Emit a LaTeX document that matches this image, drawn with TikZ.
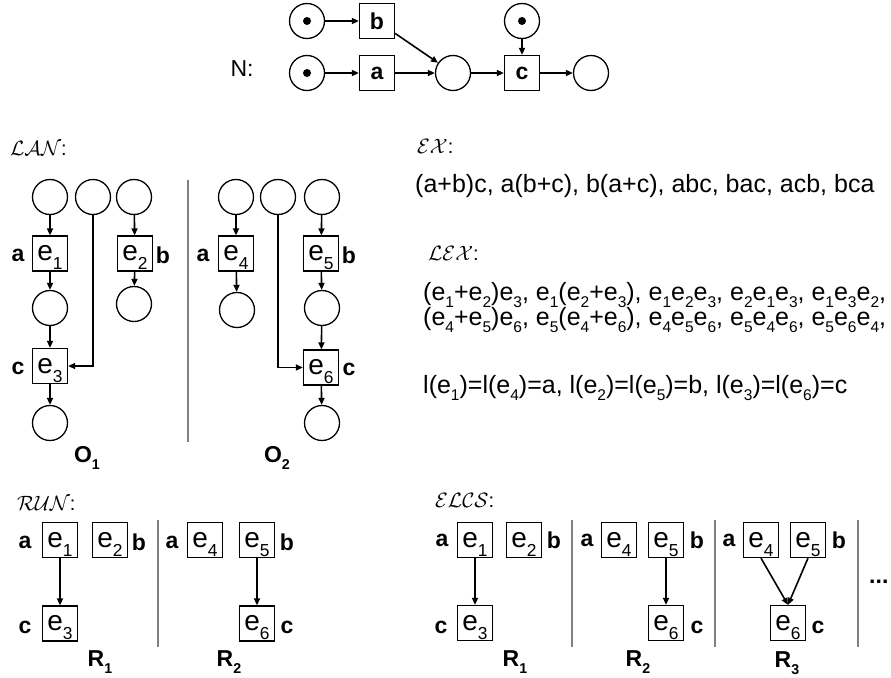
\documentclass[tikz,border=0pt]{standalone}
\usepackage{fontspec}
\setmainfont{Liberation Sans}
\usepackage{tikz}
\usetikzlibrary{arrows.meta,positioning}
\newcommand{\ix}[1]{\raisebox{-0.3em}{\scalebox{0.62}{#1}}}
\newcommand{\bx}[1]{e\raisebox{-0.32em}[0pt][0pt]{\scalebox{0.62}{#1}}}

\begin{document}
\begin{tikzpicture}[x=1pt, y=-1pt,
    place/.style={circle, draw, line width=1.3pt, minimum size=35pt, inner sep=0pt},
    token/.style={place, path picture={\fill (path picture bounding box.center) circle (4pt);}},
    trans/.style={draw, line width=1.3pt, minimum size=35pt, inner sep=0pt, font=\fontsize{23}{26}\selectfont\bfseries},
    ev/.style={draw, line width=1.3pt, minimum size=35pt, inner sep=0pt, font=\fontsize{28}{30}\selectfont},
    arc/.style={-{Triangle[length=7pt,width=6pt]}, line width=1.6pt},
    thick_arc/.style={arc, line width=2.6pt},
    sep/.style={gray, line width=1.5pt},
    lbl/.style={font=\fontsize{23}{26}\selectfont\bfseries, inner sep=0pt},
    txt/.style={font=\fontsize{25}{28}\selectfont, anchor=base west, inner sep=0pt},
    cal/.style={font=\fontsize{20}{24}\selectfont, anchor=base west, inner sep=0pt}
]
    \useasboundingbox (0,0) rectangle (891,677);

    % net N
    \node[token] (pb) at (307,21) {};
    \node[trans] (tb) at (377,21) {b};
    \node[token] (pa) at (307,73) {};
    \node[trans] (ta) at (377,73) {a};
    \node[place] (pm) at (453,73) {};
    \node[token] (pc) at (522,21) {};
    \node[trans] (tc) at (522,73) {c};
    \node[place] (pe) at (591,73) {};
    \node[font=\fontsize{23}{26}\selectfont] (nlab) at (242,69) {N:};

    \draw[thick_arc] (pb) -- (tb);
    \draw[thick_arc] (pa) -- (ta);
    \draw[arc] (ta) -- (pm);
    \draw[arc] (tb) -- (pm);
    \draw[arc] (pm) -- (tc);
    \draw[arc] (pc) -- (tc);
    \draw[thick_arc] (tc) -- (pe);

    % LAN
    \node[cal] (lan) at (10,155) {$\mathcal{LAN}$:};
    \node[place] (q1) at (50,197) {};
    \node[place] (q2) at (93,197) {};
    \node[place] (q3) at (134,197) {};
    \node[ev] (e1) at (50,253.5) {\bx{1}};
    \node[ev] (e2) at (135,253.5) {\bx{2}};
    \node[place] (q4) at (50,308) {};
    \node[place] (q5) at (134,304) {};
    \node[ev] (e3) at (50,366) {\bx{3}};
    \node[place] (q6) at (50,423) {};
    \node[lbl] (la1) at (18,255) {a};
    \node[lbl] (lb1) at (163,255) {b};
    \node[lbl] (lc1) at (18,368) {c};

    \draw[arc] (q1) -- (e1);
    \draw[arc] (e1) -- (q4);
    \draw[arc] (q4) -- (e3);
    \draw[arc] (e3) -- (q6);
    \draw[arc] (q3) -- (e2);
    \draw[arc] (e2) -- (q5);
    \draw[arc] (q2.south) |- (e3.east);

    \draw[sep] (188,180) -- (188,442);

    \node[place] (r1) at (236,197) {};
    \node[place] (r2) at (278,197) {};
    \node[place] (r3) at (322,197) {};
    \node[ev] (e4) at (236,253.5) {\bx{4}};
    \node[place] (r4) at (237,310) {};
    \node[ev] (e5) at (321,253.5) {\bx{5}};
    \node[place] (r5) at (322,308) {};
    \node[ev] (e6) at (321,367.5) {\bx{6}};
    \node[place] (r6) at (322,423) {};
    \node[lbl] (la2) at (203,255) {a};
    \node[lbl] (lb2) at (349,255) {b};
    \node[lbl] (lc2) at (349,369) {c};

    \draw[arc] (r1) -- (e4);
    \draw[arc] (e4) -- (r4);
    \draw[arc] (r3) -- (e5);
    \draw[arc] (e5) -- (r5);
    \draw[arc] (r5) -- (e6);
    \draw[arc] (e6) -- (r6);
    \draw[arc] (r2.south) |- (e6.west);

    \node[lbl] (o1) at (87,458) {O\ix{1}};
    \node[lbl] (o2) at (277,458) {O\ix{2}};

    % EX and LEX
    \node[cal] (ex) at (417,153) {$\mathcal{EX}$:};
    \node[txt] (exl) at (415,192) {(a+b)c, a(b+c), b(a+c), abc, bac, acb, bca};
    \node[cal] (lex) at (428,260) {$\mathcal{LEX}$:};
    \node[txt] (lex1) at (423,300) {(e\ix{1}+e\ix{2})e\ix{3}, e\ix{1}(e\ix{2}+e\ix{3}), e\ix{1}e\ix{2}e\ix{3}, e\ix{2}e\ix{1}e\ix{3}, e\ix{1}e\ix{3}e\ix{2},};
    \node[txt] (lex2) at (423,325) {(e\ix{4}+e\ix{5})e\ix{6}, e\ix{5}(e\ix{4}+e\ix{6}), e\ix{4}e\ix{5}e\ix{6}, e\ix{5}e\ix{4}e\ix{6}, e\ix{5}e\ix{6}e\ix{4},};
    \node[txt] (lmap) at (423,393) {l(e\ix{1})=l(e\ix{4})=a, l(e\ix{2})=l(e\ix{5})=b, l(e\ix{3})=l(e\ix{6})=c};

    % RUN
    \node[cal] (run) at (17,510) {$\mathcal{RUN}$:};
    \node[ev] (u1) at (60,540) {\bx{1}};
    \node[ev] (u2) at (110,540) {\bx{2}};
    \node[ev] (u3) at (60,623.5) {\bx{3}};
    \node[ev] (u4) at (205,540) {\bx{4}};
    \node[ev] (u5) at (257,540) {\bx{5}};
    \node[ev] (u6) at (257,623.5) {\bx{6}};
    \node[lbl] (la3) at (25,542) {a};
    \node[lbl] (lb3) at (139,542) {b};
    \node[lbl] (lc3) at (25,627) {c};
    \node[lbl] (la4) at (172,542) {a};
    \node[lbl] (lb4) at (287,542) {b};
    \node[lbl] (lc4) at (287,627) {c};
    \draw[arc] (u1) -- (u3);
    \draw[arc] (u5) -- (u6);
    \draw[sep] (158,520) -- (158,647);
    \node[lbl] (rr1) at (100,662) {R\ix{1}};
    \node[lbl] (rr2) at (229,662) {R\ix{2}};

    % ELCS
    \node[cal] (elcs) at (435,507) {$\mathcal{ELCS}$:};
    \node[ev] (v1) at (475,540) {\bx{1}};
    \node[ev] (v2) at (524,540) {\bx{2}};
    \node[ev] (v3) at (475,623) {\bx{3}};
    \node[ev] (v4) at (619,540) {\bx{4}};
    \node[ev] (v5) at (666,540) {\bx{5}};
    \node[ev] (v6) at (666,623) {\bx{6}};
    \node[ev] (v7) at (761,540) {\bx{4}};
    \node[ev] (v8) at (808,540) {\bx{5}};
    \node[ev] (v9) at (788,623) {\bx{6}};
    \node[lbl] (la5) at (442,540) {a};
    \node[lbl] (lb5) at (554,540) {b};
    \node[lbl] (lc5) at (441,627) {c};
    \node[lbl] (la6) at (587,540) {a};
    \node[lbl] (lb6) at (697,540) {b};
    \node[lbl] (lc6) at (697,627) {c};
    \node[lbl] (la7) at (729,540) {a};
    \node[lbl] (lb7) at (839,540) {b};
    \node[lbl] (lc7) at (818,627) {c};
    \draw[arc] (v1) -- (v3);
    \draw[arc] (v5) -- (v6);
    \draw[arc] (v7.south) -- (v9.north);
    \draw[arc] (v8.south) -- (v9.north);
    \draw[sep] (572,520) -- (572,647);
    \draw[sep] (715,520) -- (715,647);
    \draw[sep] (858,520) -- (858,647);
    \node[lbl, anchor=base west] (dots) at (869,583) {...};
    \node[lbl] (ss1) at (515,662) {R\ix{1}};
    \node[lbl] (ss2) at (638,662) {R\ix{2}};
    \node[lbl] (ss3) at (787,663) {R\ix{3}};
\end{tikzpicture}
\end{document}
